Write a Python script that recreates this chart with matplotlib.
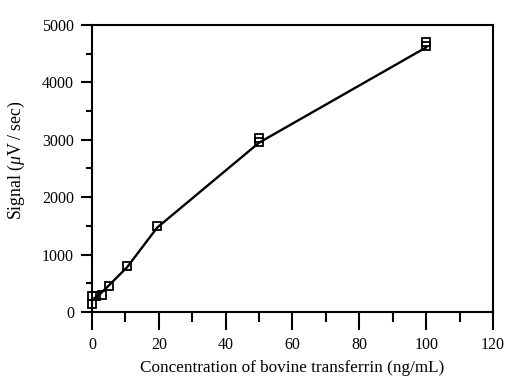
import matplotlib
matplotlib.use("Agg")
import matplotlib.pyplot as plt
from matplotlib.ticker import MultipleLocator

plt.rcParams["font.family"] = ["Liberation Serif", "DejaVu Serif"]
plt.rcParams["mathtext.fontset"] = "custom"
plt.rcParams["mathtext.rm"] = "Liberation Serif"
plt.rcParams["mathtext.it"] = "Liberation Serif:italic"

# replicate measurements
conc = [0, 0, 1.2, 3, 5, 10.5, 19.5, 50, 50, 100, 100]
signal = [140, 280, 280, 300, 460, 800, 1490, 2970, 3040, 4630, 4700]

# connecting line (means)
line_conc = [0, 2, 5, 10.5, 19.5, 50, 100]
line_signal = [210, 290, 460, 780, 1470, 2950, 4610]

fig = plt.figure(figsize=(5.18, 3.81), dpi=100)
ax = fig.add_axes([0.1776, 0.1811, 0.7741, 0.7533])

ax.plot(line_conc, line_signal, color="black", lw=1.7, zorder=2, clip_on=False)
ax.plot(conc, signal, "s", ms=5.8, mfc="none", mec="black", mew=1.3,
        zorder=3, clip_on=False)

ax.set_xlim(0, 120)
ax.set_ylim(0, 5000)
ax.xaxis.set_major_locator(MultipleLocator(20))
ax.xaxis.set_minor_locator(MultipleLocator(10))
ax.yaxis.set_major_locator(MultipleLocator(1000))
ax.yaxis.set_minor_locator(MultipleLocator(500))

for s in ax.spines.values():
    s.set_linewidth(1.5)
ax.tick_params(axis="x", which="major", length=13, width=1.5, labelsize=11.5, pad=5)
ax.tick_params(axis="x", which="minor", length=7, width=1.5)
ax.tick_params(axis="y", which="major", length=8, width=1.5, labelsize=11.5, pad=5)
ax.tick_params(axis="y", which="minor", length=4, width=1.5)

ax.set_xlabel("Concentration of bovine transferrin (ng/mL)", fontsize=12.3, labelpad=5)
ax.set_ylabel("Signal ($\\mu$V\u2009/\u2009sec)", fontsize=12.8)
ax.yaxis.set_label_coords(-0.163, 0.53)

fig.savefig("out.png", dpi=100)
